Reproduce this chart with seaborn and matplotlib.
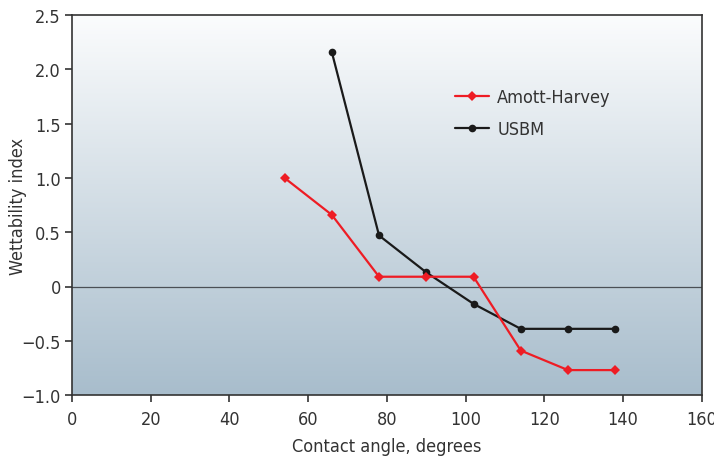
import numpy as np
import pandas as pd
import matplotlib
matplotlib.use("Agg")
import matplotlib.pyplot as plt
import seaborn as sns
from matplotlib.colors import LinearSegmentedColormap

sns.set_theme(style="ticks")
plt.rcParams['font.family'] = ['DejaVu Sans']
plt.rcParams['font.stretch'] = 'condensed'
plt.rcParams['axes.unicode_minus'] = True

amott_x = [54, 66, 78, 90, 102, 114, 126, 138]
amott_y = [1.00, 0.66, 0.09, 0.09, 0.09, -0.59, -0.77, -0.77]
usbm_x = [66, 78, 90, 102, 114, 126, 138]
usbm_y = [2.16, 0.47, 0.13, -0.16, -0.39, -0.39, -0.39]
x_ticks = [0, 20, 40, 60, 80, 100, 120, 140, 160]
y_ticks = [-1.0, -0.5, 0, 0.5, 1.0, 1.5, 2.0, 2.5]
y_labels = ["\u22121.0", "\u22120.5", "0", "0.5", "1.0", "1.5", "2.0", "2.5"]

txt = "#333333"
fig = plt.figure(figsize=(7.14, 4.6), dpi=100)
ax = fig.add_axes([0.1008, 0.139, 0.8822, 0.826])

cmap = LinearSegmentedColormap.from_list("bg", ["#fbfcfd", "#a8bdcc"])
grad = np.linspace(0, 1, 256).reshape(-1, 1)
ax.imshow(grad, cmap=cmap, extent=[0, 160, -1.0, 2.5], aspect="auto",
          origin="upper", zorder=0)

ax.axhline(0, color="#4a4f55", lw=0.9, zorder=1)

df_a = pd.DataFrame({"x": amott_x, "y": amott_y})
df_u = pd.DataFrame({"x": usbm_x, "y": usbm_y})
sns.lineplot(data=df_a, x="x", y="y", ax=ax, color="#ee1c24", lw=1.6,
             marker="D", markersize=5, markeredgewidth=0, label="Amott-Harvey", zorder=3)
sns.lineplot(data=df_u, x="x", y="y", ax=ax, color="#1a1a1a", lw=1.6,
             marker="o", markersize=5.5, markeredgewidth=0, label="USBM", zorder=2)

ax.set_xlim(0, 160)
ax.set_ylim(-1.0, 2.5)
ax.set_xticks(x_ticks)
ax.set_yticks(y_ticks)
ax.set_yticklabels(y_labels)
ax.tick_params(axis="both", colors="#333333", labelsize=13, length=5, width=1.2,
               labelcolor=txt, direction="out")
ax.tick_params(axis="x", pad=6)
ax.tick_params(axis="y", pad=3)
for s in ax.spines.values():
    s.set_color("#333333")
    s.set_linewidth(1.2)
ax.set_xlabel("Contact angle, degrees", fontsize=13, color=txt, labelpad=6)
ax.set_ylabel("Wettability index", fontsize=13, color=txt)
ax.yaxis.set_label_coords(-0.071, 0.5)

leg = ax.legend(loc="upper left", bbox_to_anchor=(0.582, 0.85), frameon=False,
                fontsize=13, handlelength=1.9, handletextpad=0.45, labelspacing=0.75)
for t in leg.get_texts():
    t.set_color(txt)

fig.savefig("out.png", dpi=100)
